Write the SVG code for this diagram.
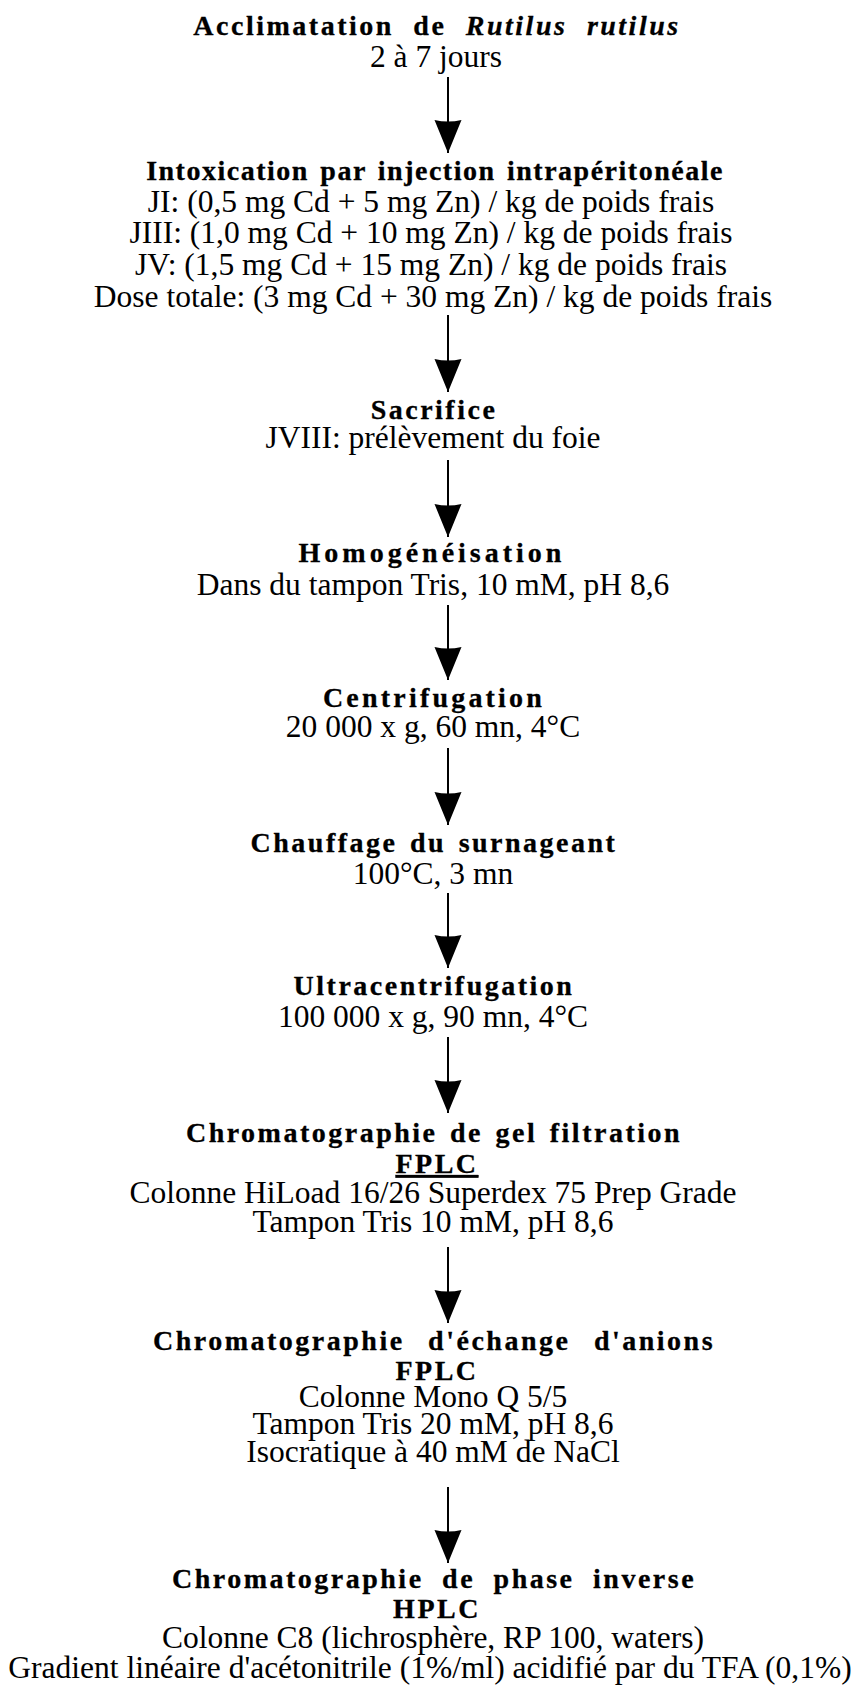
<svg xmlns="http://www.w3.org/2000/svg" width="860" height="1693" viewBox="0 0 860 1693">
  <style>
    text { font-family: "Liberation Serif", "Times New Roman", serif; fill: #000; text-anchor: middle; }
    .t { font-size: 28px; font-weight: bold; letter-spacing: 2.5px; word-spacing: 3px; stroke: #000; stroke-width: 0.3px; }
    .s { font-size: 31.5px; }
    .it { font-style: italic; }
    .u { text-decoration: underline; }
    .arrow { stroke: #000; stroke-width: 2; fill: none; marker-end: url(#head); }
  </style>
  <defs>
    <marker id="head" viewBox="0 -14 34 28" refX="33" refY="0" markerWidth="34" markerHeight="28" markerUnits="userSpaceOnUse" orient="auto">
      <path d="M0,-13.5 Q3,0 0,13.5 L33,0 Z" fill="#000"/>
    </marker>
  </defs>
  <rect width="860" height="1693" fill="#fff"/>

  <g id="acclimatation">
    <text class="t" x="437" y="35" style="word-spacing:10px">Acclimatation de <tspan class="it">Rutilus</tspan> <tspan class="it">rutilus</tspan></text>
    <text class="s" x="436" y="67">2 à 7 jours</text>
  </g>

  <g id="intoxication">
    <text class="t" x="435" y="180" style="letter-spacing:1.5px">Intoxication par injection intrapéritonéale</text>
    <text class="s" x="431" y="212">JI: (0,5 mg Cd + 5 mg Zn) / kg de poids frais</text>
    <text class="s" x="431" y="243">JIII: (1,0 mg Cd + 10 mg Zn) / kg de poids frais</text>
    <text class="s" x="431" y="275">JV: (1,5 mg Cd + 15 mg Zn) / kg de poids frais</text>
    <text class="s" x="433" y="307">Dose totale: (3 mg Cd + 30 mg Zn) / kg de poids frais</text>
  </g>

  <g id="sacrifice">
    <text class="t" x="434" y="419">Sacrifice</text>
    <text class="s" x="433" y="448">JVIII: prélèvement du foie</text>
  </g>

  <g id="homogeneisation">
    <text class="t" x="432" y="562" style="letter-spacing:4px">Homogénéisation</text>
    <text class="s" x="433" y="595">Dans du tampon Tris, 10 mM, pH 8,6</text>
  </g>

  <g id="centrifugation">
    <text class="t" x="434" y="707" style="letter-spacing:3.2px">Centrifugation</text>
    <text class="s" x="433" y="737">20 000 x g, 60 mn, 4°C</text>
  </g>

  <g id="chauffage">
    <text class="t" x="434" y="852">Chauffage du surnageant</text>
    <text class="s" x="433" y="884">100°C, 3 mn</text>
  </g>

  <g id="ultracentrifugation">
    <text class="t" x="434" y="995">Ultracentrifugation</text>
    <text class="s" x="433" y="1027">100 000 x g, 90 mn, 4°C</text>
  </g>

  <g id="gel-filtration">
    <text class="t" x="434" y="1142">Chromatographie de gel filtration</text>
    <text class="t u" x="437" y="1173">FPLC</text>
    <text class="s" x="433" y="1203">Colonne HiLoad 16/26 Superdex 75 Prep Grade</text>
    <text class="s" x="433" y="1232">Tampon Tris 10 mM, pH 8,6</text>
  </g>

  <g id="echange-anions">
    <text class="t" x="434" y="1350" style="word-spacing:14px">Chromatographie d'échange d'anions</text>
    <text class="t" x="437" y="1380">FPLC</text>
    <text class="s" x="433" y="1407">Colonne Mono Q 5/5</text>
    <text class="s" x="433" y="1434">Tampon Tris 20 mM, pH 8,6</text>
    <text class="s" x="433" y="1462">Isocratique à 40 mM de NaCl</text>
  </g>

  <g id="phase-inverse">
    <text class="t" x="434" y="1588" style="word-spacing:9px">Chromatographie de phase inverse</text>
    <text class="t" x="437" y="1618">HPLC</text>
    <text class="s" x="433" y="1648">Colonne C8 (lichrosphère, RP 100, waters)</text>
    <text class="s" x="430" y="1678">Gradient linéaire d'acétonitrile (1%/ml) acidifié par du TFA (0,1%)</text>
  </g>

  <g id="connectors">
    <line class="arrow" x1="448" y1="77" x2="448" y2="153"/>
    <line class="arrow" x1="448" y1="315" x2="448" y2="392"/>
    <line class="arrow" x1="448" y1="460" x2="448" y2="537"/>
    <line class="arrow" x1="448" y1="605" x2="448" y2="680"/>
    <line class="arrow" x1="448" y1="748" x2="448" y2="825"/>
    <line class="arrow" x1="448" y1="893" x2="448" y2="968"/>
    <line class="arrow" x1="448" y1="1037" x2="448" y2="1113"/>
    <line class="arrow" x1="448" y1="1247" x2="448" y2="1323"/>
    <line class="arrow" x1="448" y1="1487" x2="448" y2="1563"/>
  </g>
</svg>
